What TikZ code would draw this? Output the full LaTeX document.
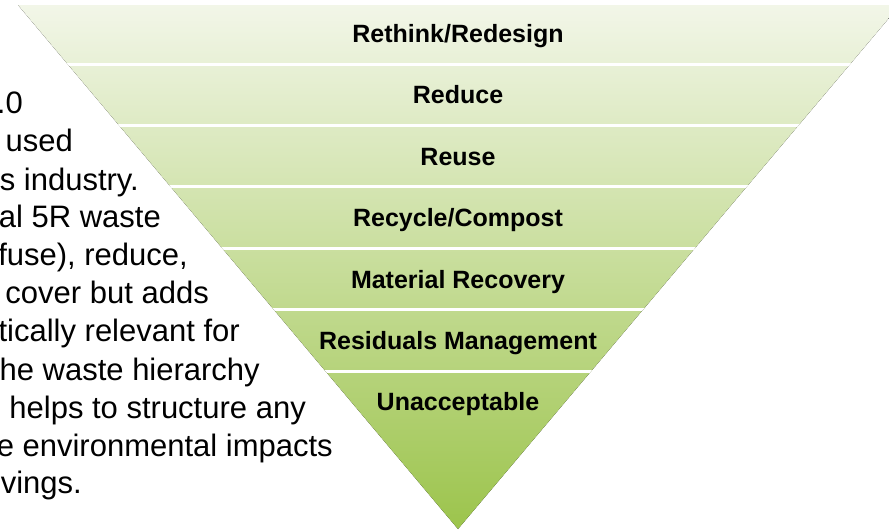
\documentclass[tikz,border=0pt]{standalone}
\usepackage{fontspec}
\setmainfont{Liberation Sans}

\definecolor{topgreen}{HTML}{F2F6E8}
\definecolor{midgreen}{HTML}{D1E3AC}
\definecolor{botgreen}{HTML}{9CC44C}

\tikzset{
  body/.style={font=\fontsize{31}{37}\selectfont, anchor=base east, inner sep=0pt},
  level/.style={font=\bfseries\fontsize{25}{30}\selectfont, anchor=base, inner sep=0pt},
  gap/.style={white, line width=3pt}
}

\begin{document}
\begin{tikzpicture}[x=1pt,y=-1pt]
\useasboundingbox (0,0) rectangle (889,530);
%\draw[help lines, color=gray!30, dashed] (0,0) grid[step=50] (889,530);
% text that runs in from the left
\node[body] (t1) at (23,113) {.0};
\node[body] (t2) at (73,151.7) {used};
\node[body] (t3) at (139,190) {s industry.};
\node[body] (t4) at (161,227) {nal 5R waste};
\node[body] (t5) at (188,265) {efuse), reduce,};
\node[body] (t6) at (209,303.5) {cover but adds};
\node[body] (t7) at (240,341.7) {itically relevant for};
\node[body] (t8) at (260,380) {he waste hierarchy};
\node[body] (t9) at (306,418) {helps to structure any};
\node[body] (t10) at (333,456.5) {se environmental impacts};
\node[body] (t11) at (82,493) {vings.};
% the hierarchy
\coordinate (tl) at (18,5);
\coordinate (tr) at (900,5);
\coordinate (tip) at (458,529);
\fill[top color=topgreen, middle color=midgreen, bottom color=botgreen] (tl) -- (tr) -- (tip) -- cycle;
\begin{scope}
\clip (tl) -- (tr) -- (tip) -- cycle;
\foreach \y in {64,125.4,186.8,248.2,309.6,371} \draw[gap] (0,\y) -- (889,\y);
\end{scope}
\node[level] (rethink) at (458,42.5) {Rethink/Redesign};
\node[level] (reduce) at (458,103.9) {Reduce};
\node[level] (reuse) at (458,165.3) {Reuse};
\node[level] (recycle) at (458,226.7) {Recycle/Compost};
\node[level] (recovery) at (458,288.1) {Material Recovery};
\node[level] (residuals) at (458,349.5) {Residuals Management};
\node[level] (unaccept) at (458,410.9) {Unacceptable};
\end{tikzpicture}
\end{document}
